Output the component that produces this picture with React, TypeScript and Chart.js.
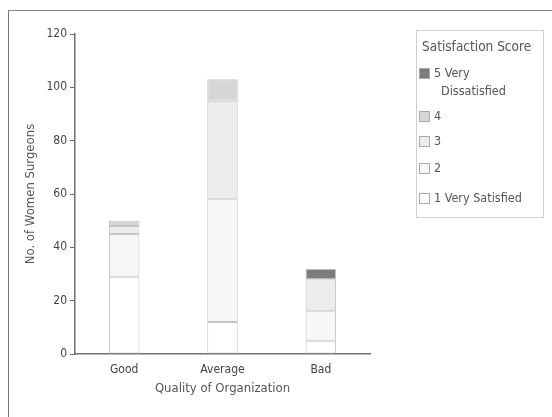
import React, { useEffect, useRef } from "react";
import { Chart, registerables } from "chart.js";

Chart.register(...registerables);

const categories = ["Good", "Average", "Bad"];
const score1 = [29, 12, 5];
const score2 = [16, 46, 11];
const score3 = [3, 37, 12];
const score4 = [2, 8, 0];
const score5 = [0, 0, 4];
const seriesLabels = ["1 Very Satisfied", "2", "3", "4", "5 Very Dissatisfied"];
const yTicks = [0, 20, 40, 60, 80, 100, 120];

const FONT = '"Liberation Sans Narrow", "DejaVu Sans Condensed", "Liberation Sans", Arial, sans-serif';
const fills = ["#ffffff", "#f7f7f7", "#ececec", "#d6d6d6", "#7c7c7c"];

const legendItems = [
  { lines: ["5 Very", "Dissatisfied"], color: fills[4], top: 70 },
  { lines: ["4"], color: fills[3], top: 113 },
  { lines: ["3"], color: fills[2], top: 138 },
  { lines: ["2"], color: fills[1], top: 165 },
  { lines: ["1 Very Satisfied"], color: fills[0], top: 195 },
];

export default function App() {
  const ref = useRef<HTMLCanvasElement>(null);
  useEffect(() => {
    document.body.style.margin = "0";
    const values = [score1, score2, score3, score4, score5];
    const chart = new Chart(ref.current!, {
      type: "bar",
      data: {
        labels: categories,
        datasets: values.map((v, i) => ({
          label: seriesLabels[i],
          data: v,
          backgroundColor: fills[i],
          borderColor: "#c4c4c4",
          borderWidth: 1,
          borderSkipped: false,
          barPercentage: 0.62,
          categoryPercentage: 0.5,
        })),
      },
      options: {
        animation: false,
        responsive: false,
        maintainAspectRatio: false,
        layout: { padding: { top: 34, right: 182, left: 0, bottom: 0 } },
        plugins: { legend: { display: false }, tooltip: { enabled: false } },
        scales: {
          x: {
            stacked: true,
            grid: { display: false, drawTicks: false },
            border: { color: "#6f6f6f", width: 1.5 },
            ticks: { color: "#444", font: { family: FONT, size: 12 }, padding: 9 },
            title: {
              display: true,
              text: "Quality of Organization",
              color: "#555",
              font: { family: FONT, size: 13 },
              padding: { top: 0, bottom: 21 },
            },
            afterFit: (s: any) => {
              s.height = 63;
            },
          },
          y: {
            stacked: true,
            min: 0,
            max: 120,
            afterBuildTicks: (s: any) => {
              s.ticks = yTicks.map((v) => ({ value: v }));
            },
            grid: { display: true, drawOnChartArea: false, tickLength: 5, color: "#6f6f6f" },
            border: { color: "#6f6f6f", width: 1.5 },
            ticks: { color: "#444", font: { family: FONT, size: 12 }, padding: 3 },
            title: {
              display: true,
              text: "No. of Women Surgeons",
              color: "#555",
              font: { family: FONT, size: 13 },
              padding: { top: 23, bottom: 0 },
            },
            afterFit: (s: any) => {
              s.width = 75;
            },
          },
        },
      },
    });
    return () => chart.destroy();
  }, []);

  return (
    <div style={{ position: "relative", width: 552, height: 417, background: "#fff", overflow: "hidden" }}>
      <canvas ref={ref} width={552} height={417} style={{ position: "absolute", left: 0, top: 0 }} />
      <div
        style={{
          position: "absolute",
          left: 8,
          top: 10,
          width: 560,
          height: 420,
          borderLeft: "1.5px solid #777",
          borderTop: "1.5px solid #888",
          pointerEvents: "none",
        }}
      />
      <div
        style={{
          position: "absolute",
          left: 416,
          top: 30,
          width: 126,
          height: 186,
          border: "1px solid #cfcfcf",
          fontFamily: FONT,
          color: "#555",
        }}
      >
        <div style={{ position: "absolute", left: 5, top: 7, fontSize: 13.5, whiteSpace: "nowrap" }}>
          Satisfaction Score
        </div>
        {legendItems.map((it, i) => (
          <div key={i} style={{ position: "absolute", left: 2, top: it.top - 30 - 6, fontSize: 12.5, lineHeight: "16px" }}>
            <span
              style={{
                position: "absolute",
                left: 0,
                top: 3,
                width: 9,
                height: 9,
                background: it.color,
                border: "1px solid #aaa",
              }}
            />
            <div style={{ marginLeft: 15, whiteSpace: "nowrap" }}>{it.lines[0]}</div>
            {it.lines[1] && <div style={{ marginLeft: 22, whiteSpace: "nowrap", marginTop: 2 }}>{it.lines[1]}</div>}
          </div>
        ))}
      </div>
    </div>
  );
}
